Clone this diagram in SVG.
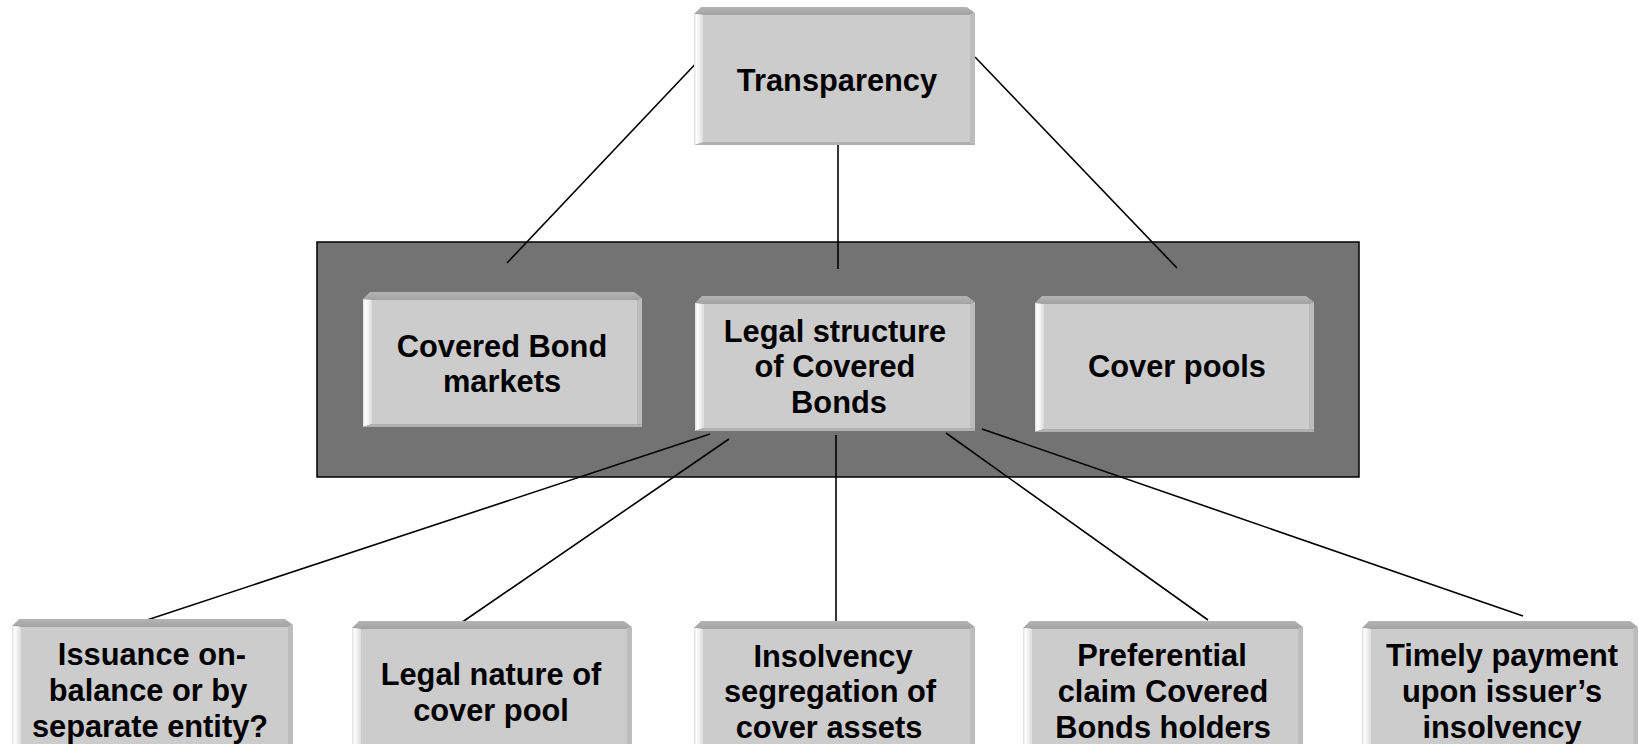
<svg xmlns="http://www.w3.org/2000/svg" xmlns:xlink="http://www.w3.org/1999/xlink" width="1639" height="754" viewBox="0 0 1639 754">
  <style>
    .lbl { font-family: "Liberation Sans", Arial, sans-serif; font-weight: bold; font-size: 30.8px; fill: #000; text-anchor: middle; }
    .link { stroke: #000; stroke-width: 1.6; fill: none; }
    .panel { fill: #737373; stroke: #000; stroke-width: 1.5; }
  </style>
  <defs>
    <linearGradient id="gTop" x1="0" y1="0" x2="0" y2="1">
      <stop offset="0" stop-color="#b4b4b4"/>
      <stop offset="1" stop-color="#a2a2a2"/>
    </linearGradient>
    <linearGradient id="gLeft" x1="0" y1="0" x2="1" y2="0">
      <stop offset="0" stop-color="#dedede"/>
      <stop offset="0.3" stop-color="#ffffff"/>
      <stop offset="1" stop-color="#dcdcdc"/>
    </linearGradient>
    <!-- bevelled grey block: face, top, left, right and bottom edges -->
    <symbol id="block" viewBox="0 0 280 136" preserveAspectRatio="none">
      <rect x="9" y="8" width="266" height="125" fill="#cccccc"/>
      <polygon points="0,7 7,0 272,0 280,6 275,8 9,8" fill="url(#gTop)"/>
      <polygon points="0,7 9,8 9,133 0,136" fill="url(#gLeft)"/>
      <polygon points="280,6 280,134 275,133 275,8" fill="#bcbcbc"/>
      <polygon points="0,136 9,133 275,133 280,134 280,136" fill="#b0b0b0"/>
    </symbol>
    <clipPath id="cut" clipPathUnits="userSpaceOnUse">
      <rect x="0" y="0" width="1639" height="744"/>
    </clipPath>
  </defs>

  <rect width="1639" height="754" fill="#ffffff"/>

  <!-- dark panel holding the three middle blocks -->
  <g id="panel">
    <rect class="panel" x="317" y="242" width="1042" height="235"/>
  </g>

  <g id="connectors">
    <line class="link" x1="702" y1="57" x2="507" y2="263"/>
    <line class="link" x1="838" y1="117" x2="838" y2="269"/>
    <line class="link" x1="975" y1="57" x2="1177" y2="268"/>
    <line class="link" x1="710" y1="434" x2="144" y2="621"/>
    <line class="link" x1="729" y1="439" x2="458" y2="625"/>
    <line class="link" x1="836" y1="435" x2="836" y2="621"/>
    <line class="link" x1="946" y1="433" x2="1208" y2="620"/>
    <line class="link" x1="982" y1="429" x2="1523" y2="616"/>
  </g>

  <g id="transparency">
    <use xlink:href="#block" x="694" y="7" width="281" height="138"/>
    <text class="lbl" x="837" y="91">Transparency</text>
  </g>

  <g id="covered-bond-markets">
    <use xlink:href="#block" x="363" y="292" width="279" height="135"/>
    <text class="lbl" x="502" y="357">Covered Bond</text>
    <text class="lbl" x="502" y="392">markets</text>
  </g>

  <g id="legal-structure">
    <use xlink:href="#block" x="695" y="296" width="280" height="135"/>
    <text class="lbl" x="835" y="342">Legal structure</text>
    <text class="lbl" x="835" y="377">of Covered</text>
    <text class="lbl" x="839" y="413">Bonds</text>
  </g>

  <g id="cover-pools">
    <use xlink:href="#block" x="1035" y="296" width="279" height="136"/>
    <text class="lbl" x="1177" y="377">Cover pools</text>
  </g>

  <g clip-path="url(#cut)">
    <g id="issuance">
      <use xlink:href="#block" x="12" y="619" width="281" height="136"/>
      <text class="lbl" x="152" y="665">Issuance on-</text>
      <text class="lbl" x="148" y="701">balance or by</text>
      <text class="lbl" x="150" y="737">separate entity?</text>
    </g>

    <g id="legal-nature">
      <use xlink:href="#block" x="352" y="621" width="280" height="136"/>
      <text class="lbl" x="491" y="685">Legal nature of</text>
      <text class="lbl" x="491" y="721">cover pool</text>
    </g>

    <g id="insolvency-segregation">
      <use xlink:href="#block" x="694" y="621" width="281" height="136"/>
      <text class="lbl" x="833" y="667">Insolvency</text>
      <text class="lbl" x="830" y="702">segregation of</text>
      <text class="lbl" x="829" y="738">cover assets</text>
    </g>

    <g id="preferential-claim">
      <use xlink:href="#block" x="1023" y="621" width="280" height="136"/>
      <text class="lbl" x="1162" y="666">Preferential</text>
      <text class="lbl" x="1163" y="702">claim Covered</text>
      <text class="lbl" x="1163" y="738">Bonds holders</text>
    </g>

    <g id="timely-payment">
      <use xlink:href="#block" x="1362" y="621" width="276" height="136"/>
      <text class="lbl" x="1502" y="666">Timely payment</text>
      <text class="lbl" x="1502" y="702">upon issuer’s</text>
      <text class="lbl" x="1502" y="738">insolvency</text>
    </g>
  </g>
</svg>
